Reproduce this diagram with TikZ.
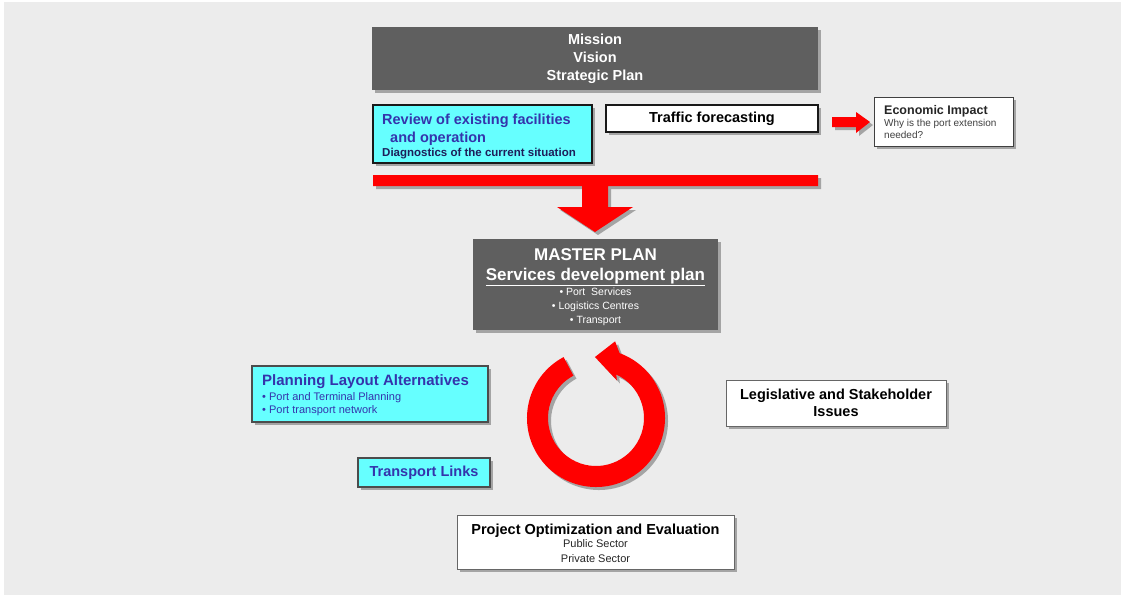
\documentclass[tikz,border=0pt]{standalone}
\usepackage{fontspec}
\setmainfont{Liberation Sans}
\usetikzlibrary{shadows}
\definecolor{boxgrey}{HTML}{5F5F5F}
\definecolor{boxcyan}{HTML}{66FFFF}
\definecolor{titleblue}{HTML}{3434AC}
\definecolor{navy}{HTML}{1E1E5A}
\definecolor{pagegrey}{HTML}{ECECEC}
\begin{document}
\begin{tikzpicture}[x=1pt,y=-1pt,
  shadowed/.style={drop shadow={shadow xshift=3pt,shadow yshift=-3pt,fill=black,opacity=0.3}},
  darkbox/.style={shadowed,fill=boxgrey,inner sep=0pt},
  cyanbox/.style={shadowed,fill=boxcyan,draw=black!90,line width=1.2pt,inner sep=0pt},
  thickbox/.style={cyanbox,draw=black!70,line width=2.5pt},
  whitebox/.style={shadowed,fill=white,draw=black!60,line width=1pt,inner sep=0pt},
  redshape/.style={shadowed,fill=red},
  bigtxt/.style={font=\fontsize{14.5}{18}\selectfont\bfseries},
  smalltxt/.style={font=\fontsize{10.5}{13}\selectfont},
  txt/.style={inner sep=0pt}]
\def\row#1#2#3#4#5{
\node [txt,#2] (#1) at (#3,#4) {#5};
}
\fill[white] (0,0) rectangle (1125,598);
\fill[pagegrey] (4,2) rectangle (1121,595);
\useasboundingbox (0,0) rectangle (1125,598);

\node[darkbox,minimum width=446,minimum height=63,text=white,align=center,bigtxt] (mission) at (595,58.5) {Mission\\Vision\\Strategic Plan};

\node[cyanbox,minimum width=219,minimum height=58] (review) at (482.5,134) {};
\row{revA}{anchor=base west,bigtxt,text=titleblue}{382}{124}{Review of existing facilities}
\row{revB}{anchor=base west,bigtxt,text=titleblue}{390}{142}{and operation}
\row{revC}{anchor=base west,font=\fontsize{11.5}{13}\selectfont\bfseries,text=navy}{382}{156}{Diagnostics of the current situation}

\node[whitebox,minimum width=212,minimum height=27,bigtxt,draw=black!90,line width=1.3pt] (traffic) at (712,118.5) {Traffic forecasting};

\node[whitebox,minimum width=139,minimum height=49,draw=black!75] (econ) at (943.5,121.5) {};
\row{ecoA}{anchor=base west,font=\fontsize{12.5}{15}\selectfont\bfseries,text=black!85}{884}{114}{Economic Impact}
\row{ecoB}{anchor=base west,font=\fontsize{10}{12}\selectfont,text=black!75}{884}{126.5}{Why is the port extension}
\row{ecoC}{anchor=base west,font=\fontsize{10}{12}\selectfont,text=black!75}{884}{138.5}{needed?}

\fill[redshape] (832,117) -- (856,117) -- (856,112) -- (870,122) -- (856,133) -- (856,127) -- (832,127) -- cycle;

\fill[redshape] (373,175) -- (818,175) -- (818,186) -- (608,186) -- (608,207) -- (633,207) -- (595,232)
  -- (557,207) -- (582,207) -- (582,186) -- (373,186) -- cycle;

\node[darkbox,minimum width=245,minimum height=91] (master) at (595.5,284.5) {};
\row{mpA}{anchor=base,text=white,font=\fontsize{17}{20}\selectfont\bfseries}{595.5}{260.5}{MASTER PLAN}
\row{mpB}{anchor=base,text=white,font=\fontsize{17}{20}\selectfont\bfseries}{595.5}{280.5}{\underline{Services development plan}}
\row{mpC}{anchor=base,text=white,smalltxt}{595.5}{295.5}{\textbullet\ Port\ \ Services}
\row{mpD}{anchor=base,text=white,smalltxt}{595.5}{309.5}{\textbullet\ Logistics Centres}
\row{mpE}{anchor=base,text=white,smalltxt}{595.5}{323}{\textbullet\ Transport}

\begin{scope}[shift={(596,418)}]
\fill[redshape] (-118:69) arc[start angle=-118,end angle=-430,radius=69] -- (-76:79) -- (-91:61)
  -- (-61:43) -- (-65:48) arc[start angle=-65,end angle=242,radius=48] -- cycle;
\end{scope}

\node[thickbox,minimum width=236,minimum height=56] (layout) at (370,394) {};
\row{layA}{anchor=base west,text=titleblue,font=\fontsize{15}{18}\selectfont\bfseries}{262}{385.5}{Planning Layout Alternatives}
\row{layB}{anchor=base west,text=titleblue,font=\fontsize{11}{13}\selectfont}{262}{400}{\textbullet\ Port and Terminal Planning}
\row{layC}{anchor=base west,text=titleblue,font=\fontsize{11}{13}\selectfont}{262}{413.5}{\textbullet\ Port transport network}

\node[thickbox,minimum width=132,minimum height=29,text=titleblue,bigtxt] (links) at (424,472.5) {Transport Links};

\node[whitebox,minimum width=220,minimum height=46,align=center,font=\fontsize{14.5}{16.5}\selectfont\bfseries] (legal) at (836,403) {Legislative and Stakeholder\\Issues};

\node[whitebox,minimum width=277,minimum height=54] (project) at (595.5,542) {};
\row{prA}{anchor=base,bigtxt}{595.5}{534}{Project Optimization and Evaluation}
\row{prB}{anchor=base,font=\fontsize{11}{13}\selectfont,text=black!85}{595.5}{547.5}{Public Sector}
\row{prC}{anchor=base,font=\fontsize{11}{13}\selectfont,text=black!85}{595.5}{562}{Private Sector}
\end{tikzpicture}
\end{document}
